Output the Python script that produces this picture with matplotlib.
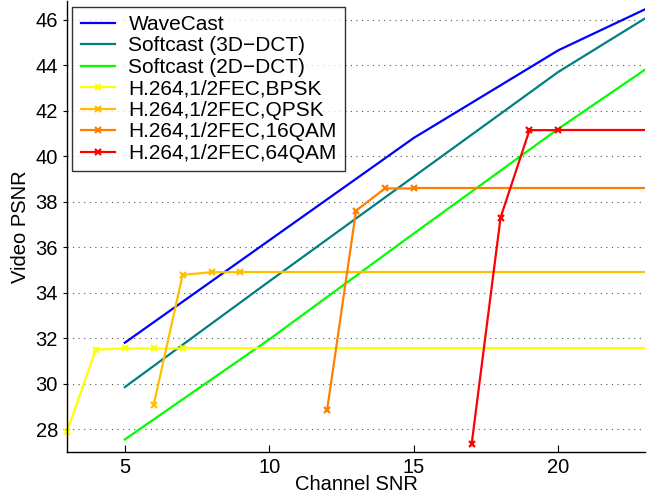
import numpy as np
import matplotlib
matplotlib.use('Agg')
import matplotlib.pyplot as plt

plt.rcParams['font.family'] = ['Liberation Sans', 'DejaVu Sans']

# Softcast / WaveCast curves
snr_soft = [5, 10, 15, 20, 23]
wavecast = [31.8, 36.3, 40.8, 44.65, 46.45]
soft3d = [29.85, 34.5, 39.1, 43.7, 46.05]
soft2d = [27.55, 31.95, 36.6, 41.2, 43.8]

# H.264 curves (measured points, then flat to the end)
snr_bpsk = [3, 4, 5, 6, 7]
bpsk = [27.9, 31.5, 31.55, 31.55, 31.55]
snr_qpsk = [6, 7, 8, 9]
qpsk = [29.07, 34.78, 34.9, 34.9]
snr_16qam = [12, 13, 14, 15]
qam16 = [28.85, 37.6, 38.58, 38.58]
snr_64qam = [17, 18, 19, 20]
qam64 = [27.35, 37.3, 41.14, 41.14]
snr_end = 23

fs = 14.5
fig = plt.figure(figsize=(6.54, 5.03), dpi=100)
ax = fig.add_axes([0.1024, 0.1014, 0.884, 0.896])

lw = 1.6
ax.plot(snr_soft, wavecast, color='#0000ff', lw=lw, label='WaveCast')
ax.plot(snr_soft, soft3d, color='#008080', lw=lw, label='Softcast (3D\u2212DCT)')
ax.plot(snr_soft, soft2d, color='#00ff00', lw=lw, label='Softcast (2D\u2212DCT)')

h264 = [
    (snr_bpsk, bpsk, '#ffff00', 'H.264,1/2FEC,BPSK'),
    (snr_qpsk, qpsk, '#ffbf00', 'H.264,1/2FEC,QPSK'),
    (snr_16qam, qam16, '#ff8000', 'H.264,1/2FEC,16QAM'),
    (snr_64qam, qam64, '#ff0000', 'H.264,1/2FEC,64QAM'),
]
for xs, ys, c, lab in h264:
    # flat tail without markers
    ax.plot([xs[-1], snr_end], [ys[-1], ys[-1]], color=c, lw=lw)
    ax.plot(xs, ys, color=c, lw=lw, marker='x', ms=5, mew=1.6,
            label=lab, clip_on=False)

ax.set_xlim(3, 23)
ax.set_ylim(27, 46.8)
ax.set_xticks([5, 10, 15, 20])
ax.set_yticks(np.arange(28, 47, 2))
ax.yaxis.grid(True, linestyle=(0, (1, 4)), color='#555555', lw=0.8)
ax.set_axisbelow(True)

for s in ['top', 'right']:
    ax.spines[s].set_visible(False)
for s in ['left', 'bottom']:
    ax.spines[s].set_linewidth(1.0)
ax.tick_params(axis='x', direction='in', length=5, labelsize=fs, pad=4)
ax.tick_params(axis='y', direction='out', length=3, labelsize=fs)

ax.set_xlabel('Channel SNR', fontsize=fs, labelpad=-1)
ax.set_ylabel('Video PSNR', fontsize=fs, labelpad=4)

leg = ax.legend(loc='upper left', fontsize=15, frameon=True, fancybox=False,
                edgecolor='black', borderaxespad=0.25, labelspacing=0.12,
                handlelength=1.65, handletextpad=0.65, borderpad=0.4)
leg.get_frame().set_linewidth(1.0)

fig.savefig('out.png', dpi=100)
